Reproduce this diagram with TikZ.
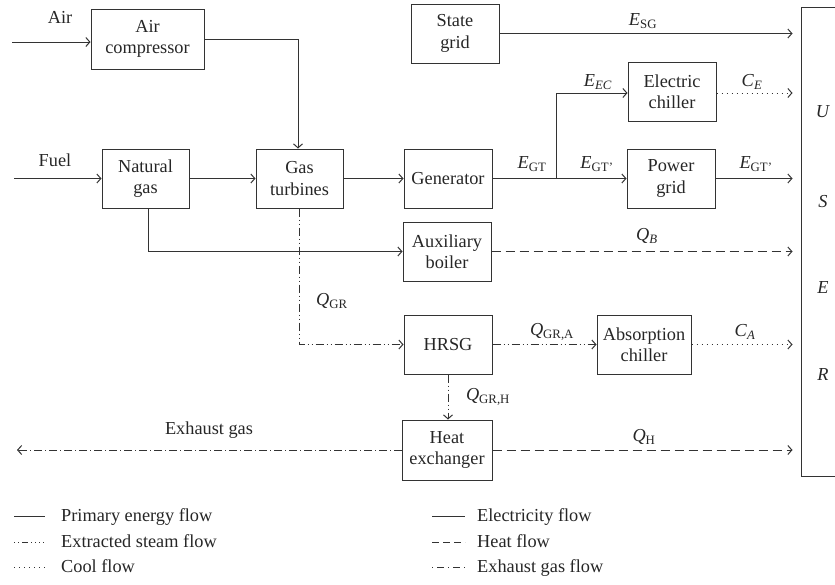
\documentclass[tikz,border=0pt]{standalone}
\usepackage{fontspec}
\setmainfont{Liberation Serif}
\usetikzlibrary{arrows.meta}
\begin{document}
\begin{tikzpicture}[x=1pt,y=-1pt,
  every node/.style={font=\fontsize{18.3}{21.5}\selectfont, text=black!85},
  box/.style={draw=black!80, line width=1pt, inner sep=0pt, align=center},
  ln/.style={draw=black!80, line width=1pt},
  tip/.style={-{Straight Barb[length=4pt,width=9pt,line width=1pt]}},
  elec/.style={ln, tip},
  heat/.style={ln, tip, dash pattern=on 9pt off 5pt},
  cool/.style={ln, tip, dash pattern=on 1pt off 4pt},
  steam/.style={ln, tip, dash pattern=on 8pt off 3pt on 1pt off 3pt on 1pt off 3pt},
  exhaust/.style={ln, tip, dash pattern=on 8pt off 3pt on 1pt off 3pt},
  touser/.style={shorten >=8pt},
  lbl/.style={inner sep=0pt},
  legtext/.style={anchor=base west, inner sep=0pt}
]
\useasboundingbox (0,0) rectangle (835,584);

% boxes
\node[box, minimum width=113pt, minimum height=60pt] (ac) at (147.5,39) {Air\\compressor};
\node[box, minimum width=88pt, minimum height=59pt] (sg) at (455,33.5) {State\\grid};
\node[box, minimum width=88pt, minimum height=59pt] (ec) at (672,91.5) {Electric\\chiller};
\node[box, minimum width=87pt, minimum height=59pt] (ng) at (145.5,178.5) {Natural\\gas};
\node[box, minimum width=87pt, minimum height=59pt] (gt) at (299.5,178.5) {Gas\\turbines};
\node[box, minimum width=88pt, minimum height=59pt] (gen) at (448,178.5) {Generator};
\node[box, minimum width=88pt, minimum height=59pt] (pg) at (671,178.5) {Power\\grid};
\node[box, minimum width=88pt, minimum height=59pt] (ab) at (447,251.5) {Auxiliary\\boiler};
\node[box, minimum width=88pt, minimum height=59pt] (hrsg) at (448,344.5) {HRSG};
\node[box, minimum width=94pt, minimum height=59pt] (abs) at (644,344.5) {Absorption\\chiller};
\node[box, minimum width=90pt, minimum height=60pt] (hx) at (447,450) {Heat\\exchanger};
\node[box, minimum width=60pt, minimum height=469pt] (user) at (831,241.5) {};

% USER letters
\node[lbl] (u1) at (823,112) {\textit{U}};
\node[lbl] (u2) at (823,202) {\textit{S}};
\node[lbl] (u3) at (823,288) {\textit{E}};
\node[lbl] (u4) at (823,375) {\textit{R}};

% free ends
\coordinate (airin) at (12,42);
\coordinate (fuelin) at (14,178.5);
\coordinate (br) at (556,178.5);
\coordinate (exout) at (17,450);
\coordinate (ecin) at ([yshift=-1.5pt]ec.west);
\coordinate (ecout) at ([yshift=-1.5pt]ec.east);
\coordinate (gtin) at ([xshift=-1.5pt]gt.north);
\coordinate (ngout) at ([xshift=3pt]ng.south);

% connectors
\draw[elec] (airin) -- (ac.west |- airin);
\draw[elec] (ac.east) -| (gtin);
\draw[elec] (fuelin) -- (ng.west);
\draw[elec] (ng.east) -- (gt.west);
\draw[elec] (gt.east) -- (gen.west);
\draw[elec] (gen.east) -- (pg.west);
\draw[elec] (br) |- (ecin);
\draw[elec, touser] (sg.east) -- (user.west |- sg.east);
\draw[cool, touser] (ecout) -- (user.west |- ecout);
\draw[elec, touser] (pg.east) -- (user.west |- pg.east);
\draw[elec] (ngout) |- (ab.west);
\draw[heat, touser] (ab.east) -- (user.west |- ab.east);
\draw[steam] (gt.south) |- (hrsg.west);
\draw[steam] (hrsg.east) -- (abs.west);
\draw[cool, touser] (abs.east) -- (user.west |- abs.east);
\draw[steam] (hrsg.south) -- (hrsg.south |- hx.north);
\draw[heat, touser] (hx.east) -- (user.west |- hx.east);
\draw[exhaust] (hx.west) -- (exout);

% labels
\node[lbl] (lair) at (60,17) {Air};
\node[lbl] (lfuel) at (55,160) {Fuel};
\node[lbl] (lesg) at (643,21) {\textit{E}\textsubscript{SG}};
\node[lbl] (leec) at (598,82) {\textit{E}\textsubscript{\textit{EC}}};
\node[lbl] (lce) at (752,82) {\textit{C}\textsubscript{\textit{E}}};
\node[lbl] (legt) at (532,164) {\textit{E}\textsubscript{GT}};
\node[lbl] (legt1) at (597,164) {\textit{E}\textsubscript{GT’}};
\node[lbl] (legt2) at (756,164) {\textit{E}\textsubscript{GT’}};
\node[lbl] (lqb) at (647,236) {\textit{Q}\textsubscript{\textit{B}}};
\node[lbl] (lqgr) at (332,301) {\textit{Q}\textsubscript{GR}};
\node[lbl] (lqgra) at (552,332) {\textit{Q}\textsubscript{GR,A}};
\node[lbl] (lca) at (745,332) {\textit{C}\textsubscript{\textit{A}}};
\node[lbl] (lqgrh) at (488,397) {\textit{Q}\textsubscript{GR,H}};
\node[lbl] (lqh) at (644,437) {\textit{Q}\textsubscript{H}};
\node[lbl] (lex) at (209,430) {Exhaust gas};

% legend
\coordinate (a1) at (14,516); \coordinate (b1) at (45,516);
\coordinate (a2) at (14,542); \coordinate (b2) at (45,542);
\coordinate (a3) at (14,567); \coordinate (b3) at (45,567);
\draw[ln] (a1) -- (b1);
\draw[ln, dash pattern=on 1pt off 3pt on 1pt off 3pt on 6pt off 3pt on 1pt off 3pt on 1pt off 3pt] (a2) -- (b2);
\draw[ln, dash pattern=on 1pt off 4pt] (a3) -- (b3);
\node[legtext] (t1) at (61,521) {Primary energy flow};
\node[legtext] (t2) at (61,547) {Extracted steam flow};
\node[legtext] (t3) at (61,572) {Cool flow};

\coordinate (c1) at (432,516); \coordinate (d1) at (465,516);
\coordinate (c2) at (432,542); \coordinate (d2) at (465,542);
\coordinate (c3) at (432,567); \coordinate (d3) at (465,567);
\draw[ln] (c1) -- (d1);
\draw[ln, dash pattern=on 7pt off 4pt] (c2) -- (d2);
\draw[ln, dash pattern=on 1pt off 4pt on 7pt off 4pt] (c3) -- (d3);
\node[legtext] (t4) at (477,521) {Electricity flow};
\node[legtext] (t5) at (477,547) {Heat flow};
\node[legtext] (t6) at (477,572) {Exhaust gas flow};
\end{tikzpicture}
\end{document}
